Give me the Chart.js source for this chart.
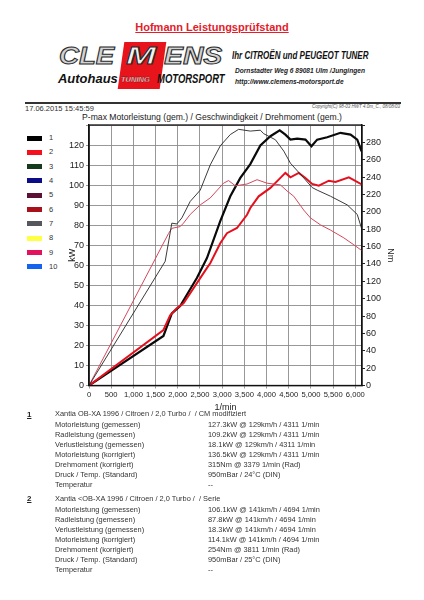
<!DOCTYPE html>
<html lang="de">
<head>
<meta charset="UTF-8">
<title>Hofmann Leistungsprüfstand</title>
<script src="https://cdn.jsdelivr.net/npm/chart.js"></script>
<style>
  html, body { margin: 0; padding: 0; background: #fff; }
  body { width: 424px; height: 600px; position: relative; overflow: hidden;
         font-family: "Liberation Sans", Arial, sans-serif; color: #222; }
  .abs { position: absolute; white-space: nowrap; line-height: 1; }
  .titel { left: 0; width: 424px; top: 22px; text-align: center; color: #e3202a;
           font-size: 11px; font-weight: bold; text-decoration: underline; }
  .logo { font-style: italic; font-weight: 900; font-size: 24px; color: #d2d2d2;
          -webkit-text-stroke: 1px #2a2a2a; transform-origin: left top; }
  .rotbox { position: absolute; left: 121px; top: 42px; width: 42px; height: 47px;
            background: #e8141c; transform: skewX(-8deg); }
  .auto { font-style: italic; font-weight: bold; font-size: 12px; color: #111; transform-origin: left center; }
  .tuning { font-style: italic; font-weight: bold; font-size: 7.5px; color: #fff;
            -webkit-text-stroke: 0.3px #600; }
  .tuner { font-weight: bold; font-style: italic; font-size: 10px; color: #111;
           transform-origin: left center; transform: scaleX(0.8); }
  .adr { font-weight: bold; font-style: italic; font-size: 6.6px; color: #222; }
  .linie { position: absolute; left: 25px; top: 102px; width: 376px; height: 1.5px; background: #333; }
  .klein { font-size: 7.5px; color: #333; }
  .copy { font-size: 4.5px; font-style: italic; color: #555; }
  .diagtitel { left: 0; width: 424px; top: 113px; text-align: center; font-size: 8.6px; color: #222; }
  #legende .box { position: absolute; left: 27px; width: 15px; height: 5px; }
  #legende .nr { position: absolute; left: 49px; font-size: 7.5px; line-height: 1; color: #333; }
  #wrap { position: absolute; left: 0; top: 115px; width: 424px; height: 300px; }
  .info { font-size: 7.4px; color: #333; }
  .lauf { font-size: 8px; font-weight: bold; text-decoration: underline; color: #222; }
</style>
</head>
<body>
  <div class="abs titel">Hofmann Leistungsprüfstand</div>

  <div class="rotbox"></div>
  <div class="abs logo" style="left:59px; top:44px; transform:scaleX(1.15);">CLE</div>
  <div class="abs logo" style="left:126px; top:44px; transform:scaleX(1.5); color:#f2f2f2;">M</div>
  <div class="abs logo" style="left:164px; top:44px; transform:scaleX(1.18);">ENS</div>
  <div class="abs auto" style="left:58px; top:73px; transform:scaleX(1.08);">Autohaus</div>
  <div class="abs tuning" style="left:121px; top:76px;">TUNING</div>
  <div class="abs auto" style="left:157px; top:73px; transform:scaleX(0.79);">MOTORSPORT</div>
  <div class="abs tuner" style="left:232px; top:51px;">Ihr CITROËN und PEUGEOT TUNER</div>
  <div class="abs adr" style="left:235px; top:68px;">Dornstadter Weg 6 89081 Ulm /Jungingen</div>
  <div class="abs adr" style="left:235px; top:79px;">http://www.clemens-motorsport.de</div>

  <div class="linie"></div>
  <div class="abs klein" style="left:25px; top:105px;">17.06.2015 15:45:59</div>
  <div class="abs copy" style="right:24px; top:105px;">Copyright(C) 98-03 HWT 4.0m_C., 08/08/03</div>
  <div class="abs diagtitel">P-max Motorleistung (gem.) / Geschwindigkeit / Drehmoment (gem.)</div>

  <div id="legende"></div>

  <div id="wrap"><canvas id="dyno"></canvas></div>

  <div class="abs lauf" style="left:27px; top:411px;">1</div>
  <div class="abs info" style="left:55px; top:410px;">Xantia OB-XA 1996 / Citroen / 2,0 Turbo /&nbsp; / CM modifiziert</div>
  <div id="lauf1"></div>
  <div class="abs lauf" style="left:27px; top:495px;">2</div>
  <div class="abs info" style="left:55px; top:495px;">Xantia &lt;OB-XA 1996 / Citroen / 2,0 Turbo /&nbsp; / Serie</div>
  <div id="lauf2"></div>

<script>
  // Messkurven
  const rpmLeistung1 = [0, 1677, 1866, 2054, 2430, 2657, 2957, 3183, 3409, 3634, 3860, 4086, 4296, 4424, 4538, 4688, 4876, 5011, 5140, 5365, 5666, 5892, 6043, 6140];
  const kwLeistung1 = [0, 24.7, 36, 39.7, 53.6, 63.6, 82, 94.4, 103.6, 110.5, 119.8, 124.4, 127.3, 125.2, 122.7, 123.2, 122.7, 119.4, 122.7, 123.9, 126.1, 125.2, 122.7, 116.9];
  const rpmMoment1 = [0, 1716, 1866, 1979, 2092, 2280, 2506, 2731, 2957, 3183, 3371, 3634, 3860, 3935, 4199, 4387, 4538, 4838, 5027, 5140, 5440, 5817, 6043, 6140];
  const nmMoment1 = [0, 143, 187, 186, 193, 212, 225, 254, 276, 289, 295, 293, 294, 290, 283, 270, 256, 239, 228, 225, 218, 208, 197, 181];

  const rpmLeistung2 = [0, 1677, 1828, 1979, 2129, 2655, 2731, 2957, 3108, 3334, 3560, 3634, 3822, 4086, 4312, 4424, 4538, 4725, 4876, 5027, 5177, 5403, 5553, 5854, 6155];
  const kwLeistung2 = [0, 27.7, 35, 38.6, 41, 58.6, 61, 71, 76, 78.6, 85.2, 88.6, 94.4, 98.6, 103.6, 106.1, 103.9, 106.1, 103.6, 100.6, 99.7, 102.2, 101.6, 103.9, 100.2];
  const rpmMoment2 = [0, 1791, 1866, 2054, 2129, 2280, 2506, 2731, 3032, 3145, 3296, 3560, 3785, 4011, 4312, 4462, 4612, 4838, 4989, 5214, 5440, 5741, 5967, 6155];
  const nmMoment2 = [0, 175, 181, 183, 187, 197, 208, 216, 233, 236, 230, 232, 237, 233, 231, 224, 218, 202, 193, 185, 179, 170, 162, 155];

  const rpmTicks = [0, 500, 1000, 1500, 2000, 2500, 3000, 3500, 4000, 4500, 5000, 5500, 6000];

  const legendeNummern = ['1', '2', '3', '4', '5', '6', '7', '8', '9', '10'];
  const legendeFarben = ['#000000', '#f5101e', '#163a1c', '#0c0c86', '#5c1034', '#a8101a', '#56565e', '#ffff44', '#e2125c', '#1464f0'];

  const infoNamen = ['Motorleistung (gemessen)', 'Radleistung (gemessen)', 'Verlustleistung (gemessen)', 'Motorleistung (korrigiert)', 'Drehmoment (korrigiert)', 'Druck / Temp. (Standard)', 'Temperatur'];
  const infoLauf1 = ['127.3kW @ 129km/h / 4311 1/min', '109.2kW @ 129km/h / 4311 1/min', '18.1kW @ 129km/h / 4311 1/min', '136.5kW @ 129km/h / 4311 1/min', '315Nm @ 3379 1/min (Rad)', '950mBar / 24°C (DIN)', '--'];
  const infoLauf2 = ['106.1kW @ 141km/h / 4694 1/min', '87.8kW @ 141km/h / 4694 1/min', '18.3kW @ 141km/h / 4694 1/min', '114.1kW @ 141km/h / 4694 1/min', '254Nm @ 3811 1/min (Rad)', '950mBar / 25°C (DIN)', '--'];

  // Legende links
  const leg = document.getElementById('legende');
  legendeNummern.forEach((n, i) => {
    const y = 138 + i * 14.33;
    leg.insertAdjacentHTML('beforeend',
      `<div class="box" style="top:${y - 2.5}px;background:${legendeFarben[i]}"></div>` +
      `<div class="nr" style="top:${y - 4}px">${n}</div>`);
  });

  // Textblock unter dem Diagramm
  function infoBlock(id, top, werte) {
    const el = document.getElementById(id);
    infoNamen.forEach((name, i) => {
      const y = top + i * 10;
      el.insertAdjacentHTML('beforeend',
        `<div class="abs info" style="left:55px;top:${y}px">${name}</div>` +
        `<div class="abs info" style="left:208px;top:${y}px">${werte[i]}</div>`);
    });
  }
  infoBlock('lauf1', 421, infoLauf1);
  infoBlock('lauf2', 506, infoLauf2);

  const paare = (xs, ys) => xs.map((x, i) => ({ x: x, y: ys[i] }));

  const tickFont = { family: '"Liberation Sans", Arial, sans-serif', size: 9 };
  const xTickFont = { family: '"Liberation Sans", Arial, sans-serif', size: 7.6 };

  // Rahmen um den Plotbereich
  const rahmen = {
    id: 'rahmen',
    afterDraw(chart) {
      const a = chart.chartArea, c = chart.ctx;
      c.save();
      c.strokeStyle = '#111';
      c.lineWidth = 1.3;
      c.strokeRect(a.left, a.top, a.right - a.left, a.bottom - a.top);
      c.restore();
    }
  };

  new Chart(document.getElementById('dyno'), {
    type: 'line',
    data: {
      datasets: [
        { label: 'Drehmoment 1', data: paare(rpmMoment1, nmMoment1), yAxisID: 'y2',
          borderColor: '#262626', borderWidth: 0.9 },
        { label: 'Drehmoment 2', data: paare(rpmMoment2, nmMoment2), yAxisID: 'y2',
          borderColor: '#d4485c', borderWidth: 1 },
        { label: 'Leistung 2', data: paare(rpmLeistung2, kwLeistung2), yAxisID: 'y',
          borderColor: '#e4101e', borderWidth: 2 },
        { label: 'Leistung 1', data: paare(rpmLeistung1, kwLeistung1), yAxisID: 'y',
          borderColor: '#0a0a0a', borderWidth: 2.2 }
      ]
    },
    options: {
      responsive: true,
      maintainAspectRatio: false,
      animation: false,
      layout: { padding: { left: 67, right: 28, top: 10, bottom: 0 } },
      elements: { point: { radius: 0 }, line: { tension: 0 } },
      plugins: { legend: { display: false }, tooltip: { enabled: false } },
      scales: {
        x: {
          type: 'linear', min: 0, max: 6150,
          afterBuildTicks(s) { s.ticks = rpmTicks.map(v => ({ value: v })); },
          ticks: { autoSkip: false, font: xTickFont, color: '#222', padding: 2, maxRotation: 0,
                   callback: v => v.toLocaleString('en-US') },
          grid: { color: '#8c8c8c', lineWidth: 0.9, tickLength: 3 },
          border: { color: '#111', width: 1.3 },
          title: { display: true, text: '1/min', font: tickFont, color: '#222', padding: { top: 0, bottom: 2 } },
          afterFit(s) { s.height = 29.5; }
        },
        y: {
          position: 'left', min: 0, max: 130,
          ticks: { stepSize: 10, maxTicksLimit: 20, font: tickFont, color: '#222', padding: 2,
                   callback: v => (v === 130 ? '' : v) },
          grid: { color: '#8c8c8c', lineWidth: 0.9, tickLength: 3 },
          border: { color: '#111', width: 1.3 },
          title: { display: true, text: 'kW', font: tickFont, color: '#222', padding: 0 },
          afterFit(s) { s.width = 22; }
        },
        y2: {
          position: 'right', min: 0, max: 300,
          ticks: { stepSize: 20, maxTicksLimit: 20, font: tickFont, color: '#222', padding: 1,
                   callback: v => (v === 300 ? '' : v) },
          grid: { drawOnChartArea: false, color: '#222', tickLength: 3 },
          border: { color: '#111', width: 1.3 },
          title: { display: true, text: 'Nm', font: tickFont, color: '#222', padding: 0 },
          afterFit(s) { s.width = 34; }
        }
      }
    },
    plugins: [rahmen]
  });
</script>
</body>
</html>
